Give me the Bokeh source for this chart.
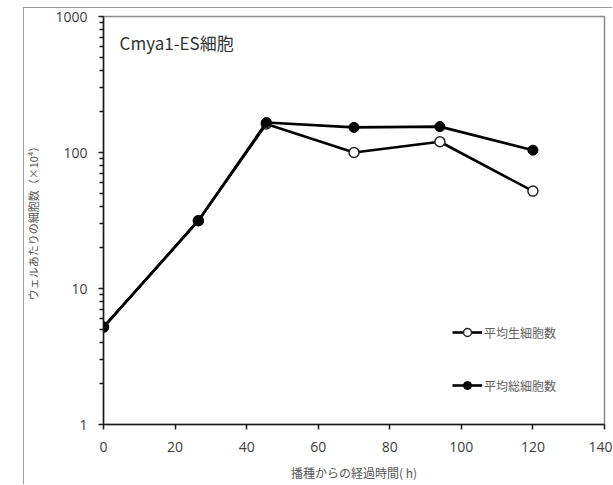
from bokeh.plotting import figure
from bokeh.models import (Legend, LegendItem, Label, FixedTicker,
                          CustomJSTickFormatter)
from bokeh.embed import file_html
from bokeh.resources import INLINE

hours = [0, 26.5, 45.5, 70, 94, 120]
live_cells = [5.2, 31.5, 162, 100, 120, 52]
total_cells = [5.2, 31.5, 166, 153, 155, 104]
x_ticks = [0, 20, 40, 60, 80, 100, 120, 140]
y_ticks = [1, 10, 100, 1000]
y_minor_ticks = [m * d for d in y_ticks[:-1] for m in range(2, 10)]
title_text = "Cmya1-ES細胞"
x_label = "播種からの経過時間( h)"
y_label = "ウェルあたりの細胞数（×10⁴）"
live_label = "平均生細胞数"
total_label = "平均総細胞数"

p = figure(frame_width=501, frame_height=408, y_axis_type="log",
           x_range=(0, 140), y_range=(1, 1000),
           output_backend="svg", toolbar_location=None,
           min_border_left=103, min_border_right=8,
           min_border_top=16, min_border_bottom=60)
p.grid.visible = False
p.outline_line_color = "#8c8c8c"
p.outline_line_width = 1.5
p.background_fill_color = "white"
p.border_fill_alpha = 0
p.styles = {
    "background-color": "white",
    "background-image": "linear-gradient(#9a9a9a, #9a9a9a), linear-gradient(#9a9a9a, #9a9a9a)",
    "background-size": "1px 100%, 100% 1px",
    "background-position": "23px 7px, 23px 7px",
    "background-repeat": "no-repeat",
}

tick_font = "Open Sans"
for ax in (p.xaxis[0], p.yaxis[0]):
    ax.axis_line_color = "#1a1a1a"
    ax.axis_line_width = 1.5
    ax.major_tick_line_color = "#1a1a1a"
    ax.major_tick_line_width = 1.5
    ax.major_tick_in = 0
    ax.major_tick_out = 5
    ax.major_label_text_font = tick_font
    ax.major_label_text_font_size = "14px"
    ax.major_label_text_color = "#404040"
    ax.axis_label_text_font = "Noto Sans CJK JP"
    ax.axis_label_text_font_style = "normal"
    ax.axis_label_text_color = "#555555"

p.xaxis.ticker = FixedTicker(ticks=x_ticks)
p.xaxis.minor_tick_line_color = None
p.xaxis.major_label_standoff = 12
p.xaxis.axis_label = x_label
p.xaxis.axis_label_text_font_size = "12px"
p.xaxis.axis_label_standoff = 9

p.yaxis.ticker = FixedTicker(ticks=y_ticks, minor_ticks=y_minor_ticks)
p.yaxis.formatter = CustomJSTickFormatter(code="return tick.toFixed(0);")
p.yaxis.minor_tick_line_color = "#1a1a1a"
p.yaxis.minor_tick_line_width = 1.5
p.yaxis.minor_tick_in = 0
p.yaxis.minor_tick_out = 4
p.yaxis.major_label_standoff = 11
p.yaxis.axis_label = y_label
p.yaxis.axis_label_text_font_size = "11px"
p.yaxis.axis_label_standoff = 11

l1 = p.line(hours, live_cells, line_color="black", line_width=2.6)
m1 = p.scatter(hours, live_cells, size=10, marker="circle",
               fill_color="white", line_color="#222222", line_width=1.5)
l2 = p.line(hours, total_cells, line_color="black", line_width=2.6)
m2 = p.scatter(hours, total_cells, size=10, marker="circle",
               fill_color="black", line_color="black")

legend = Legend(items=[LegendItem(label=live_label, renderers=[l1, m1]),
                       LegendItem(label=total_label, renderers=[l2, m2])],
                location=(349, 29), orientation="vertical",
                glyph_width=30, glyph_height=20, label_height=20,
                spacing=33, padding=0, margin=0, label_standoff=2,
                border_line_color=None, background_fill_alpha=0,
                label_text_font="Noto Sans CJK JP",
                label_text_font_size="12px", label_text_color="#606060")
p.add_layout(legend)

p.add_layout(Label(x=4.5, y=645, text=title_text, text_baseline="middle",
                   text_font="Noto Sans CJK JP", text_font_size="17px",
                   text_color="#333333"))

open("out.html", "w").write(file_html(p, INLINE))
